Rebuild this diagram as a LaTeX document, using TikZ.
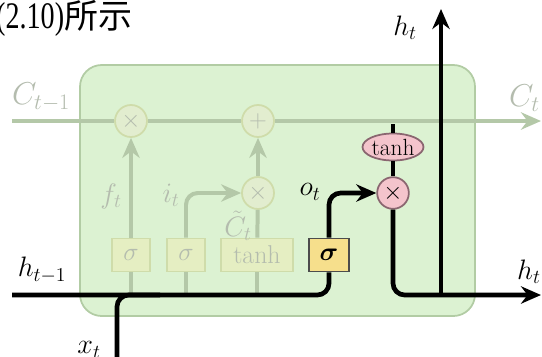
\RequirePackage{fix-cm}
\documentclass[tikz,border=0pt]{standalone}
\usepackage{fontspec}
\usepackage{amsmath}
\usepackage{graphicx}
\usetikzlibrary{arrows.meta, shapes.geometric}
\newfontfamily\cjk{Noto Sans CJK SC}
\newfontfamily\numfont{Liberation Serif}
\definecolor{cellfill}{HTML}{DCF2D2}
\definecolor{celledge}{HTML}{B2CCA4}
\definecolor{fadeline}{HTML}{B4C8A8}
\definecolor{fadetext}{HTML}{B4BCAE}
\definecolor{fadecirc}{HTML}{E2EDCF}
\definecolor{fadebox}{HTML}{E5EEC2}
\definecolor{fadeboxedge}{HTML}{CFDCAA}
\definecolor{gateyellow}{HTML}{F6DF8C}
\definecolor{gatepink}{HTML}{F4C4CC}
\definecolor{pinkedge}{HTML}{8A6670}

\begin{document}
\begin{tikzpicture}[x=0.03cm, y=-0.03cm,
        fline/.style={draw=fadeline, line width=3.4pt},
        bline/.style={draw=black, line width=4pt},
        farrow/.style={fline, -{Stealth[length=0.6cm, width=0.52cm]}},
        barrow/.style={bline, -{Stealth[length=0.6cm, width=0.52cm]}},
        fop/.style={circle, fill=fadecirc, draw=fadeboxedge, line width=1.5pt,
            minimum size=0.96cm, inner sep=0pt, text=fadetext, font=\fontsize{21}{23}\selectfont},
        fgate/.style={rectangle, fill=fadebox, draw=fadeboxedge, line width=1.5pt,
            minimum height=0.99cm, inner sep=0pt, text=fadetext, font=\fontsize{22}{24}\selectfont},
        lbl/.style={font=\fontsize{24}{26}\selectfont},
        clbl/.style={font=\fontsize{27}{29}\selectfont, text=fadetext}]
    \clip (0,0) rectangle (542,356);
    % Caption
    \node[anchor=base west, inner sep=0pt, font=\fontsize{32}{34}\selectfont] (cap) at (-4,28)
        {\scalebox{0.75}[1]{\numfont(2.10)}{\cjk\fontsize{29}{31}\selectfont 所示}};
    % Cell
    \draw[celledge, fill=cellfill, line width=1.5pt, rounded corners=0.65cm] (80,65) rectangle (475,316);
    % Faded gates
    \node[fop] (fx) at (131,121) {$\times$};
    \node[fop] (plus) at (258,121) {$+$};
    \node[fop] (ix) at (258,193) {$\times$};
    \node[fgate, minimum width=1.14cm] (sf) at (131,255) {$\sigma$};
    \node[fgate, minimum width=1.14cm] (si) at (186,255) {$\sigma$};
    \node[fgate, minimum width=2.15cm] (st) at (257,255) {tanh};
    % Output gate
    \node[rectangle, fill=gateyellow, draw=black!70, line width=1.5pt, minimum width=1.2cm,
        minimum height=0.99cm, inner sep=0pt, font=\fontsize{22}{24}\selectfont] (so) at (329,255) {$\boldsymbol{\sigma}$};
    \node[circle, fill=gatepink, draw=pinkedge, line width=1.5pt, minimum size=0.95cm,
        inner sep=0pt, font=\fontsize{21}{23}\selectfont] (ox) at (393,193) {$\times$};
    \node[ellipse, fill=gatepink, draw=pinkedge, line width=1.5pt, minimum width=1.83cm,
        minimum height=0.81cm, inner sep=0pt, font=\fontsize{20}{22}\selectfont] (th) at (393,147) {tanh};
    \coordinate (cin) at (12,121);
    \coordinate (cout) at (541,121);
    \coordinate (ctap) at (393,124);
    \coordinate (hin) at (12,295);
    \coordinate (xin) at (117,358);
    \coordinate (xj) at (160,295);
    \coordinate (hout) at (541,295);
    \coordinate (hj) at (441,295);
    \coordinate (hup) at (441,9);
    \coordinate (fd) at (131,295);
    \coordinate (id) at (186,295);
    \coordinate (td) at (257,295);
    % Faded paths
    \draw[fline] (cin) -- (fx);
    \draw[fline] (fx) -- (plus);
    \draw[farrow] (plus) -- (cout);
    \draw[farrow] (sf) -- (fx);
    \draw[farrow, rounded corners=0.35cm] (si.north) |- (ix.west);
    \draw[fline] (st) -- (ix);
    \draw[farrow] (ix) -- (plus);
    \draw[fline] (sf) -- (fd);
    \draw[fline] (si) -- (id);
    \draw[fline] (st) -- (td);
    % Black paths
    \draw[bline, rounded corners=0.35cm] (hin) -| (so.south);
    \draw[bline, rounded corners=0.35cm] (xin) |- (xj);
    \draw[barrow, rounded corners=0.35cm] (so.north) |- (ox.west);
    \draw[bline, line width=3.4pt] (ctap) -- (th);
    \draw[bline, line width=3.4pt] (th) -- (ox);
    \draw[barrow, rounded corners=0.35cm] (ox.south) |- (hout);
    \draw[barrow] (hj) -- (hup);
    % Labels
    \node[clbl] (lc0) at (41,97) {$C_{t-1}$};
    \node[clbl, anchor=west, inner sep=0pt] (lc1) at (509,98) {$C_t$};
    \node[lbl, text=fadetext] (lf) at (111,196) {$f_t$};
    \node[lbl, text=fadetext] (li) at (171,195) {$i_t$};
    \node[lbl, text=fadetext] (lct) at (238,226) {$\tilde{C}_t$};
    \node[lbl] (lo) at (310,192) {$o_t$};
    \node[lbl] (lh0) at (42,270) {$h_{t-1}$};
    \node[lbl] (lx) at (89,350) {$x_t$};
    \node[lbl] (lht) at (405,28) {$h_t$};
    \node[lbl, anchor=west, inner sep=0pt] (lhr) at (517,272) {$h_t$};
\end{tikzpicture}
\end{document}
